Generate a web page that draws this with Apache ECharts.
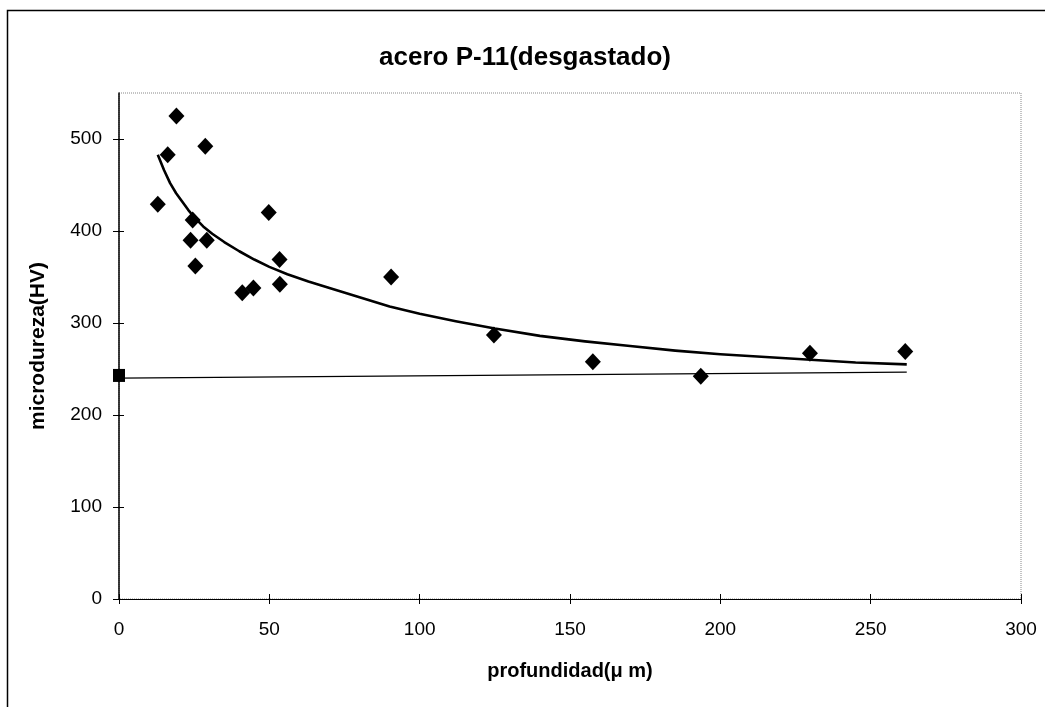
<!DOCTYPE html>
<html>
<head>
<meta charset="utf-8">
<script src="https://cdn.jsdelivr.net/npm/echarts@6/dist/echarts.min.js"></script>
<style>html,body{margin:0;padding:0;background:#fff;}#c{width:1045px;height:707px;}</style>
</head>
<body>
<div id="c"></div>
<script>
// measured points (profundidad µm, microdureza HV)
const depthX = [12.9, 16.2, 19.1, 28.7, 24.5, 23.8, 29.2, 25.4, 49.8, 53.4, 53.5, 41.0, 44.7, 90.5, 124.7, 157.6, 193.5, 229.8, 261.5];
const hardnessY = [429, 483, 525, 492, 412, 390, 390, 362, 420, 369, 342, 333, 338, 350, 287, 258, 242, 267, 269];
// base material reference point
const refX = [0];
const refY = [243];
// trend curve
const trendX = [12.9, 15, 17, 19, 21, 23, 25, 28, 31, 35, 40, 45, 50, 56, 63, 70, 80, 90, 100, 112, 125, 140, 155, 170, 185, 200, 215, 230, 245, 262];
const trendY = [483, 466, 452, 441, 432, 423, 415, 405, 397, 388, 378, 369, 361, 353, 345, 338, 328, 318, 310, 302, 294, 286, 280, 275, 270, 266, 263, 260, 257, 255];
// base line
const baseX = [0, 262];
const baseY = [240, 246.5];
// ticks
const xTicks = [0, 50, 100, 150, 200, 250, 300];
const yTicks = [0, 100, 200, 300, 400, 500];

const zip = (a, b) => a.map((v, i) => [v, b[i]]);
const FONT = '"Liberation Sans", Arial, sans-serif';

const chart = echarts.init(document.getElementById('c'), null, {renderer: 'canvas'});
chart.setOption({
  backgroundColor: '#fff',
  animation: false,
  title: {
    text: 'acero P-11(desgastado)',
    left: 520, top: 40, textAlign: 'center',
    textStyle: {fontFamily: FONT, fontSize: 26, fontWeight: 'bold', color: '#000'}
  },
  graphic: [{
    type: 'rect', left: 5, top: 8, shape: {width: 1200, height: 900},
    style: {fill: 'none', stroke: '#000', lineWidth: 1.5}, silent: true
  }],
  grid: {
    left: 119, right: 24, top: 93, bottom: 108,
    show: true, borderColor: '#888', borderWidth: 1, borderType: 'dotted', backgroundColor: 'transparent'
  },
  xAxis: [{
    type: 'value', min: 0, max: 300, interval: 50,
    name: 'profundidad(\u03bc m)', nameLocation: 'middle', nameGap: 62,
    nameTextStyle: {fontFamily: FONT, fontSize: 20, fontWeight: 'bold', color: '#000'},
    axisLine: {show: true, onZero: false, lineStyle: {color: '#000', width: 1}},
    axisTick: {show: true, length: 5, lineStyle: {color: '#000'}, customValues: xTicks},
    axisLabel: {fontFamily: FONT, fontSize: 19, color: '#000', margin: 21, customValues: xTicks},
    splitLine: {show: false}
  }, {
    type: 'value', min: 0, max: 300, position: 'bottom',
    axisLine: {show: false},
    axisTick: {show: true, inside: true, length: 5, lineStyle: {color: '#000'}, customValues: xTicks},
    axisLabel: {show: false}, splitLine: {show: false}
  }],
  yAxis: [{
    type: 'value', min: 0, max: 550,
    name: 'microdureza(HV)', nameLocation: 'middle', nameGap: 70, nameRotate: 90,
    nameTextStyle: {fontFamily: FONT, fontSize: 21, fontWeight: 'bold', color: '#000'},
    axisLine: {show: true, onZero: false, lineStyle: {color: '#000', width: 1.5}},
    axisTick: {show: true, length: 6, lineStyle: {color: '#000'}, customValues: yTicks},
    axisLabel: {fontFamily: FONT, fontSize: 19, color: '#000', margin: 17, customValues: yTicks},
    splitLine: {show: false}
  }, {
    type: 'value', min: 0, max: 550, position: 'left',
    axisLine: {show: false},
    axisTick: {show: true, inside: true, length: 5, lineStyle: {color: '#000'}, customValues: yTicks},
    axisLabel: {show: false}, splitLine: {show: false}
  }],
  series: [
    {
      type: 'line', data: zip(baseX, baseY), symbol: 'none',
      lineStyle: {color: '#000', width: 1.2}, z: 2
    },
    {
      type: 'line', data: zip(trendX, trendY), symbol: 'none', smooth: false,
      lineStyle: {color: '#000', width: 2.6, join: 'round'}, z: 3
    },
    {
      type: 'scatter', data: zip(depthX, hardnessY), symbol: 'diamond', symbolSize: [16, 17],
      itemStyle: {color: '#000', opacity: 1}, z: 4, clip: false
    },
    {
      type: 'scatter', data: zip(refX, refY), symbol: 'rect', symbolSize: [12, 13],
      itemStyle: {color: '#000', opacity: 1}, z: 5, clip: false
    }
  ]
});
</script>
</body>
</html>
